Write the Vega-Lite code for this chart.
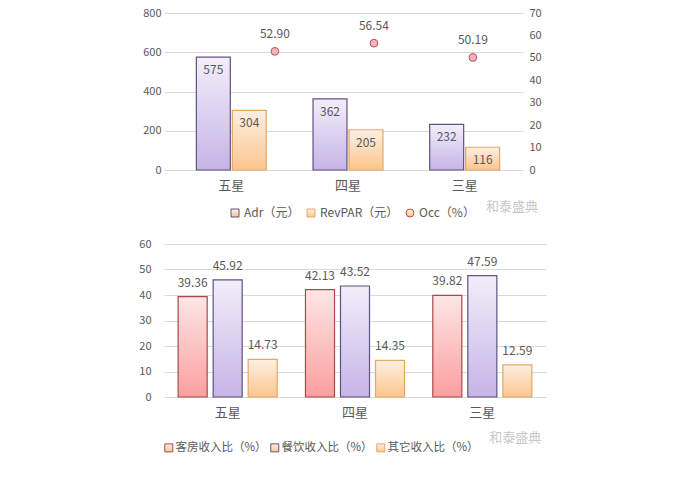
{
  "$schema": "https://vega.github.io/schema/vega-lite/v6.json",
  "padding": {"left": 138, "top": 7, "right": 5, "bottom": 5},
  "background": "white",
  "bounds": "full",
  "spacing": 19,
  "config": {
    "font": "Noto Sans CJK SC",
    "view": {"stroke": null},
    "axis": {"labelColor": "#595959", "labelFontSize": 11, "ticks": false, "domain": false, "gridColor": "#d9d9d9", "gridWidth": 1},
    "legend": {"labelColor": "#595959", "labelFontSize": 12, "symbolSize": 64, "symbolStrokeWidth": 1, "labelOffset": 3}
  },
  "datasets": {
    "top": [
      {"star": "五星", "series": "Adr（元）", "value": 575},
      {"star": "四星", "series": "Adr（元）", "value": 362},
      {"star": "三星", "series": "Adr（元）", "value": 232},
      {"star": "五星", "series": "RevPAR（元）", "value": 304},
      {"star": "四星", "series": "RevPAR（元）", "value": 205},
      {"star": "三星", "series": "RevPAR（元）", "value": 116},
      {"star": "五星", "series": "Occ（%）", "value": 52.90},
      {"star": "四星", "series": "Occ（%）", "value": 56.54},
      {"star": "三星", "series": "Occ（%）", "value": 50.19}
    ],
    "bottom": [
      {"star": "五星", "series": "客房收入比（%）", "value": 39.36},
      {"star": "四星", "series": "客房收入比（%）", "value": 42.13},
      {"star": "三星", "series": "客房收入比（%）", "value": 39.82},
      {"star": "五星", "series": "餐饮收入比（%）", "value": 45.92},
      {"star": "四星", "series": "餐饮收入比（%）", "value": 43.52},
      {"star": "三星", "series": "餐饮收入比（%）", "value": 47.59},
      {"star": "五星", "series": "其它收入比（%）", "value": 14.73},
      {"star": "四星", "series": "其它收入比（%）", "value": 14.35},
      {"star": "三星", "series": "其它收入比（%）", "value": 12.59}
    ]
  },
  "vconcat": [
    {
      "width": 359,
      "height": 157,
      "data": {"name": "top"},
      "layer": [
        {
          "transform": [{"filter": "datum.series !== 'Occ（%）'"}],
          "encoding": {
            "x": {"field": "star", "type": "nominal", "sort": ["五星", "四星", "三星"], "scale": {"type": "band", "paddingInner": 0, "paddingOuter": 0.0385, "align": 1}, "axis": {"title": null, "labelAngle": 0, "labelFontSize": 13, "labelPadding": 9, "domain": true, "domainColor": "#d9d9d9"}},
            "xOffset": {"field": "series", "type": "nominal", "scale": {"type": "band", "domain": ["Adr（元）", "RevPAR（元）"], "paddingInner": 0.056, "paddingOuter": 0.65}},
            "y": {"field": "value", "type": "quantitative", "scale": {"domain": [0, 800], "nice": false}, "axis": {"title": null, "values": [0, 200, 400, 600, 800], "grid": true, "labelPadding": 3}}
          },
          "layer": [
            {
              "mark": {"type": "bar", "strokeWidth": 1.2},
              "encoding": {
                "fill": {
                  "condition": {"test": "datum.series === 'Adr（元）'", "value": {"gradient": "linear", "x1": 0, "y1": 0, "x2": 0, "y2": 1, "stops": [{"offset": 0, "color": "#f2eefa"}, {"offset": 1, "color": "#c6b4e6"}]}},
                  "value": {"gradient": "linear", "x1": 0, "y1": 0, "x2": 0, "y2": 1, "stops": [{"offset": 0, "color": "#fdf0e2"}, {"offset": 1, "color": "#fcc58e"}]}
                },
                "stroke": {"field": "series", "type": "nominal", "scale": {"domain": ["Adr（元）", "RevPAR（元）", "Occ（%）"], "range": ["#5f5382", "#e5a766", "#c0504d"]},
                  "legend": {"title": null, "orient": "none", "legendX": 65, "legendY": 194, "direction": "horizontal", "columnPadding": 5,
                    "encode": {"symbols": {"update": {"fill": {"signal": "datum.value === 'Adr（元）' ? '#d6caee' : datum.value === 'RevPAR（元）' ? '#fbd2a6' : '#f4b3c0'"}, "opacity": {"value": 1}}}}}}
              }
            },
            {
              "mark": {"type": "text", "baseline": "top", "dy": 8, "fontSize": 12, "color": "#595959"},
              "encoding": {"text": {"field": "value", "type": "quantitative", "format": "d"}}
            }
          ]
        },
        {
          "transform": [{"filter": "datum.series === 'Occ（%）'"}],
          "encoding": {
            "x": {"field": "star", "type": "nominal", "sort": ["五星", "四星", "三星"], "scale": {"type": "point", "padding": 0.813, "align": 0.689}, "axis": null},
            "y": {"field": "value", "type": "quantitative", "scale": {"domain": [0, 70], "nice": false}, "axis": {"orient": "right", "title": null, "values": [0, 10, 20, 30, 40, 50, 60, 70], "grid": false, "labelPadding": 6}}
          },
          "layer": [
            {
              "mark": {"type": "point", "filled": true, "fill": "#f4b3c0", "size": 60, "strokeWidth": 1, "opacity": 1},
              "encoding": {
                "stroke": {"field": "series", "type": "nominal", "scale": {"domain": ["Adr（元）", "RevPAR（元）", "Occ（%）"], "range": ["#5f5382", "#e5a766", "#c0504d"]},
                  "legend": {"title": null, "orient": "none", "legendX": 65, "legendY": 194, "direction": "horizontal", "columnPadding": 5,
                    "encode": {"symbols": {"update": {"fill": {"signal": "datum.value === 'Adr（元）' ? '#d6caee' : datum.value === 'RevPAR（元）' ? '#fbd2a6' : '#f4b3c0'"}, "opacity": {"value": 1}}}}}},
                "shape": {"field": "series", "type": "nominal", "scale": {"domain": ["Adr（元）", "RevPAR（元）", "Occ（%）"], "range": ["square", "square", "circle"]},
                  "legend": {"title": null, "orient": "none", "legendX": 65, "legendY": 194, "direction": "horizontal", "columnPadding": 5,
                    "encode": {"symbols": {"update": {"fill": {"signal": "datum.value === 'Adr（元）' ? '#d6caee' : datum.value === 'RevPAR（元）' ? '#fbd2a6' : '#f4b3c0'"}, "opacity": {"value": 1}}}}}}
              }
            },
            {
              "mark": {"type": "text", "baseline": "bottom", "dy": -10, "fontSize": 12, "color": "#595959"},
              "encoding": {"text": {"field": "value", "type": "quantitative", "format": ".2f"}}
            },
            {
              "transform": [{"filter": "datum.star === '三星'"}],
              "mark": {"type": "text", "align": "right", "baseline": "middle", "dx": 65, "fontSize": 13, "color": "#c8c8c8", "text": "和泰盛典", "invalid": null},
              "encoding": {"x": {"datum": "三星"}, "y": {"datum": -16.5}}
            }
          ]
        }
      ],
      "resolve": {"scale": {"x": "independent", "y": "independent"}}
    },
    {
      "width": 382,
      "height": 153,
      "data": {"name": "bottom"},
      "encoding": {
        "x": {"field": "star", "type": "nominal", "sort": ["五星", "四星", "三星"], "scale": {"type": "band", "paddingInner": 0, "paddingOuter": 0}, "axis": {"title": null, "labelAngle": 0, "labelFontSize": 13, "labelPadding": 9, "domain": true, "domainColor": "#d9d9d9"}},
        "y": {"field": "value", "type": "quantitative", "scale": {"domain": [0, 60], "nice": false}, "axis": {"title": null, "values": [0, 10, 20, 30, 40, 50, 60], "grid": true, "labelPadding": 13}}
      },
      "layer": [
        {
          "mark": {"type": "bar", "strokeWidth": 1.2},
          "encoding": {
            "xOffset": {"field": "series", "type": "nominal", "scale": {"type": "band", "domain": ["客房收入比（%）", "餐饮收入比（%）", "其它收入比（%）"], "paddingInner": 0.171, "paddingOuter": 0.404}},
            "fill": {
              "condition": [
                {"test": "datum.series === '客房收入比（%）'", "value": {"gradient": "linear", "x1": 0, "y1": 0, "x2": 0, "y2": 1, "stops": [{"offset": 0, "color": "#fee6e6"}, {"offset": 1, "color": "#fb9f9f"}]}},
                {"test": "datum.series === '餐饮收入比（%）'", "value": {"gradient": "linear", "x1": 0, "y1": 0, "x2": 0, "y2": 1, "stops": [{"offset": 0, "color": "#f2eefa"}, {"offset": 1, "color": "#c6b4e6"}]}}
              ],
              "value": {"gradient": "linear", "x1": 0, "y1": 0, "x2": 0, "y2": 1, "stops": [{"offset": 0, "color": "#fdf0e2"}, {"offset": 1, "color": "#fcc58e"}]}
            },
            "stroke": {"field": "series", "type": "nominal", "scale": {"domain": ["客房收入比（%）", "餐饮收入比（%）", "其它收入比（%）"], "range": ["#a84a4a", "#5f5382", "#e5a766"]},
              "legend": {"title": null, "orient": "none", "legendX": -1, "legendY": 198, "direction": "horizontal", "columnPadding": 1, "labelOffset": 1, "labelFontSize": 11.5, "symbolType": "square",
                "encode": {"symbols": {"update": {"fill": {"signal": "datum.value === '客房收入比（%）' ? '#f9b9b9' : datum.value === '餐饮收入比（%）' ? '#d6caee' : '#fbd2a6'"}, "opacity": {"value": 1}}}}}}
          }
        },
        {
          "mark": {"type": "text", "baseline": "bottom", "dy": -7, "fontSize": 12, "color": "#595959"},
          "encoding": {
            "xOffset": {"field": "series", "type": "nominal", "scale": {"type": "band", "domain": ["客房收入比（%）", "餐饮收入比（%）", "其它收入比（%）"], "paddingInner": 0.171, "paddingOuter": 0.404}},
            "text": {"field": "value", "type": "quantitative", "format": ".2f"}
          }
        },
        {
          "transform": [{"filter": "datum.star === '三星' && datum.series === '其它收入比（%）'"}],
          "mark": {"type": "text", "align": "right", "baseline": "middle", "dx": 59, "fontSize": 13, "color": "#c8c8c8", "text": "和泰盛典", "invalid": null},
          "encoding": {"x": {"datum": "三星"}, "y": {"datum": -16}}
        }
      ]
    }
  ],
  "resolve": {"scale": {"stroke": "independent", "shape": "independent", "xOffset": "independent"}, "legend": {"stroke": "independent", "shape": "independent"}}
}
